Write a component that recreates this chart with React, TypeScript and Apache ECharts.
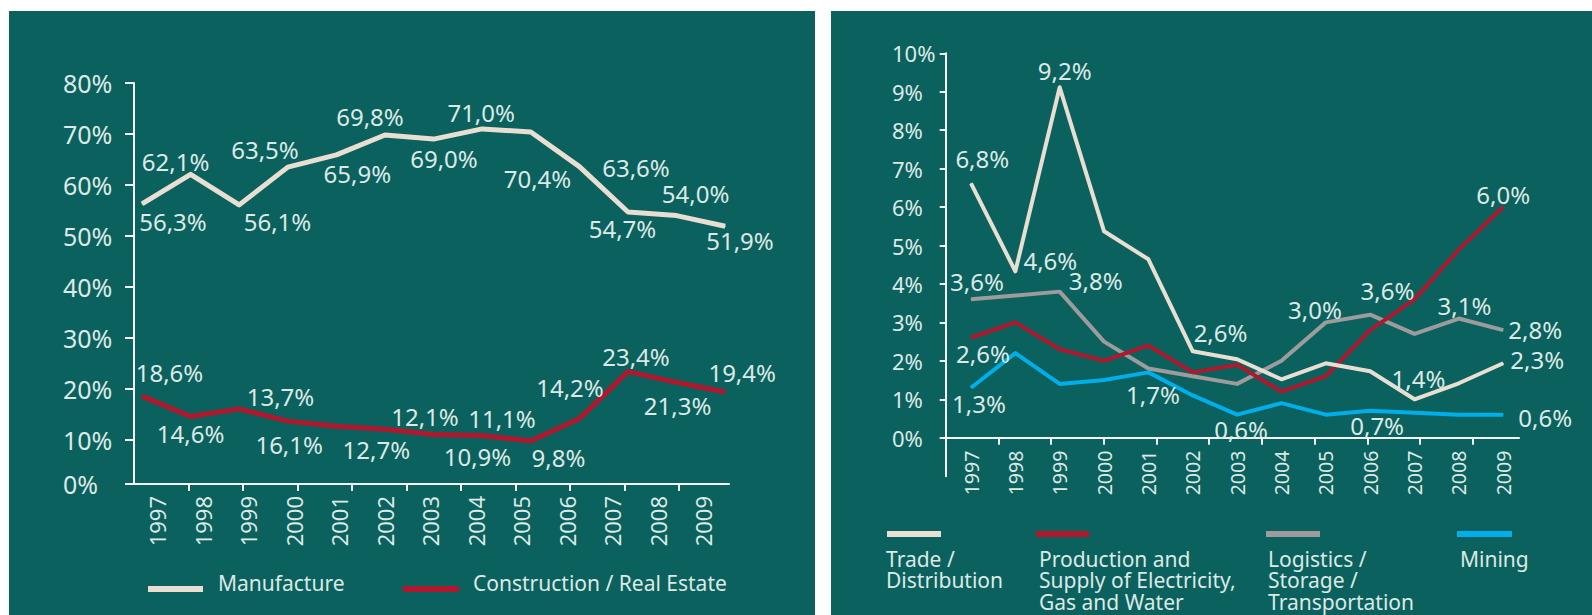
import React, { useEffect, useRef } from 'react';
import * as echarts from 'echarts';

// ---------------- data ----------------
const years = ['1997', '1998', '1999', '2000', '2001', '2002', '2003', '2004', '2005', '2006', '2007', '2008', '2009'];

// left chart (share, %)
const leftYTicks = [0, 10, 20, 30, 40, 50, 60, 70, 80];
const manufacture = [56.3, 62.1, 56.1, 63.5, 65.9, 69.8, 69.0, 71.0, 70.4, 63.6, 54.7, 54.0, 51.9];
const construction = [18.6, 14.6, 16.1, 13.7, 12.7, 12.1, 11.1, 10.9, 9.8, 14.2, 23.4, 21.3, 19.4];

// right chart (share, %)
const rightYTicks = [0, 1, 2, 3, 4, 5, 6, 7, 8, 9, 10];
const trade = [6.8, 4.6, 9.2, 5.6, 4.9, 2.6, 2.4, 1.9, 2.3, 2.1, 1.4, 1.8, 2.3];
const production = [2.6, 3.0, 2.3, 2.0, 2.4, 1.7, 1.9, 1.2, 1.6, 2.8, 3.6, 4.9, 6.0];
const logistics = [3.6, 3.7, 3.8, 2.5, 1.8, 1.6, 1.4, 2.0, 3.0, 3.2, 2.7, 3.1, 2.8];
const mining = [1.3, 2.2, 1.4, 1.5, 1.7, 1.1, 0.6, 0.9, 0.6, 0.7, 0.65, 0.6, 0.6];

// ---------------- styles / layout ----------------
const FONT = 'Noto Sans';
const TEAL = '#0b615d';
const TEXT = '#dde9e6';
const CREAM = '#e8dfd2';
const RED = '#b0182e';
const GRAY = '#9d9b9b';
const BLUE = '#00aee9';
const AXIS = '#f4f8f7';

// label placements (pixel offsets from the point), style only
const manLabelOff: [number, number][] = [[31, 17.6], [-15, -12.3], [38.3, 16.6], [-22.8, -18], [21, 18.6], [-15, -18.5], [10.4, 19], [-1, -16.4], [6.7, 47], [56.6, 1], [-5.5, 16], [19, -22.6], [14.8, 13.7]];
const conLabelOff: [number, number][] = [[27.5, -23.6], [0, 16.5], [50, 36], [-7.3, -25], [40, 23], [40, -13], [68.4, -16], [-4.7, 21], [27.7, 16], [-9.4, -31], [8, -15], [1, 23.6], [17, -19.6]];
const tradeLabelOff: Record<number, [number, number]> = { 0: [11.3, -25.3], 1: [35, -11.3], 2: [5, -17.3], 5: [27.8, -18.8], 10: [4, -21.3], 12: [34, -4] };
const prodLabelOff: Record<number, [number, number]> = { 0: [12, 16], 10: [-27, -9.3], 12: [0, -13] };
const logLabelOff: Record<number, [number, number]> = { 0: [6, -18], 2: [36, -11.6], 8: [-10.8, -13], 11: [5.6, -13.5], 12: [32, -1] };
const minLabelOff: Record<number, [number, number]> = { 0: [8, 15.5], 4: [4.6, 22], 6: [4, 14.4], 9: [7, 15], 12: [42, 3] };

// left geometry
const L_AX0 = 134, L_AX1 = 729, L_PT0 = 142, L_STEP = 48.6;
const L_TOP = 83, L_AXIS_Y = 484, L_ZERO_Y = 491;
const L_TICK0 = 134, L_TICK_STEP = 54.5;
const L_LAB0 = 157, L_LAB_STEP = 45.5;
// right geometry
const R_AX0 = 945.7, R_AX1 = 1519, R_PT0 = 971, R_STEP = 44.35;
const R_ZERO_Y = 437.7, R_UNIT = 38.44;
const R_TRADE_ZERO_Y = 455.3, R_TRADE_UNIT = 40;
const R_TICK_STEP = 52.7;

const fmt = (v: number) => v.toFixed(1).replace('.', ',') + '%';

function App() {
  const ref = useRef<HTMLDivElement>(null);
  useEffect(() => {
    if (!ref.current) return;
    const chart = echarts.init(ref.current, undefined, { renderer: 'svg' });

    const lYMax = 80;
    const lUnit = (L_ZERO_Y - L_TOP) / lYMax;
    const lYMin = (L_ZERO_Y - L_AXIS_Y) / lUnit;
    const lLabelVals = leftYTicks.map((t) => (t === 0 ? lYMin : t));
    const lXMin = (L_AX0 - L_PT0) / L_STEP;
    const lXMax = (L_AX1 - L_PT0) / L_STEP;
    const lTickVals = Array.from({ length: 10 }, (_, k) => (L_TICK0 + L_TICK_STEP * (k + 1) - L_PT0) / L_STEP);
    const lYearVals = years.map((_, i) => (L_LAB0 + L_LAB_STEP * i - L_PT0) / L_STEP);

    const rYMin = -1;
    const rYMax = 10;
    const rBottom = R_ZERO_Y - rYMin * R_UNIT;
    const rTop = R_ZERO_Y - rYMax * R_UNIT;
    const rTradeMin = (R_TRADE_ZERO_Y - rBottom) / R_TRADE_UNIT;
    const rTradeMax = (R_TRADE_ZERO_Y - rTop) / R_TRADE_UNIT;
    const rXMin = (R_AX0 - R_PT0) / R_STEP;
    const rXMax = (R_AX1 - R_PT0) / R_STEP;
    const rTickVals = Array.from({ length: 10 }, (_, k) => (R_AX0 + R_TICK_STEP * (k + 1) - R_PT0) / R_STEP);

    const labelBase = {
      show: true,
      position: 'inside',
      color: TEXT,
      fontSize: 24,
      fontFamily: FONT,
      formatter: (p: any) => fmt(p.value[1]),
    };

    const allLabels = (vals: number[], offs: [number, number][]) =>
      vals.map((v, i) => ({ value: [i, v], label: { offset: offs[i] } }));
    const someLabels = (vals: number[], offs: Record<number, [number, number]>) =>
      vals.map((v, i) => (offs[i] ? { value: [i, v], label: { show: true, offset: offs[i] } } : { value: [i, v], label: { show: false } }));

    const lineSeries = (name: string, color: string, width: number, xi: number, yi: number, data: any[]) => ({
      type: 'line',
      name,
      xAxisIndex: xi,
      yAxisIndex: yi,
      data,
      symbol: 'circle',
      symbolSize: 1,
      showSymbol: true,
      silent: true,
      lineStyle: { color, width, join: 'round' },
      itemStyle: { color },
      label: labelBase,
      emphasis: { disabled: true },
    });

    const axisLabelStyle = { color: TEXT, fontFamily: FONT };

    const legendText = (text: string, x: number, y: number) => ({
      type: 'text',
      x,
      y,
      silent: true,
      style: { text, fill: TEXT, font: `21px "${FONT}"`, align: 'left', verticalAlign: 'top', lineHeight: 21.5 },
    });
    const legendSwatch = (x: number, y: number, w: number, color: string) => ({
      type: 'rect',
      silent: true,
      shape: { x, y, width: w, height: 6 },
      style: { fill: color },
    });

    chart.setOption({
      animation: false,
      backgroundColor: '#ffffff',
      textStyle: { fontFamily: FONT },
      graphic: [
        { type: 'rect', z: -10, silent: true, shape: { x: 9, y: 11, width: 806, height: 604 }, style: { fill: TEAL } },
        { type: 'rect', z: -10, silent: true, shape: { x: 831, y: 11, width: 761, height: 604 }, style: { fill: TEAL } },
        legendSwatch(148, 586, 55, CREAM),
        { type: 'text', x: 218, y: 583, silent: true, style: { text: 'Manufacture', fill: TEXT, font: `21px "${FONT}"`, align: 'left', verticalAlign: 'middle' } },
        legendSwatch(403, 586, 56, RED),
        { type: 'text', x: 473, y: 583, silent: true, style: { text: 'Construction / Real Estate', fill: TEXT, font: `21px "${FONT}"`, align: 'left', verticalAlign: 'middle' } },
        legendSwatch(887, 531, 54, CREAM),
        legendText('Trade /\nDistribution', 886, 548),
        legendSwatch(1036, 531, 53, RED),
        legendText('Production and\nSupply of Electricity,\nGas and Water', 1039, 548),
        legendSwatch(1266, 531, 54, GRAY),
        legendText('Logistics /\nStorage /\nTransportation', 1268, 548),
        legendSwatch(1457, 531, 55, BLUE),
        legendText('Mining', 1460, 548),
      ],
      grid: [
        { left: L_AX0, top: L_TOP, width: L_AX1 - L_AX0, height: L_AXIS_Y - L_TOP, containLabel: false },
        { left: R_AX0, top: rTop, width: R_AX1 - R_AX0, height: rBottom - rTop, containLabel: false },
      ],
      xAxis: [
        {
          type: 'value',
          gridIndex: 0,
          min: lXMin,
          max: lXMax,
          splitLine: { show: false },
          axisLine: { show: true, onZero: false, lineStyle: { color: AXIS, width: 2 } },
          axisTick: { show: true, length: 7, inside: false, customValues: lTickVals, lineStyle: { color: AXIS, width: 2 } },
          axisLabel: {
            ...axisLabelStyle,
            fontSize: 22,
            rotate: 90,
            margin: 12,
            customValues: lYearVals,
            formatter: (v: number) => years[Math.round((v * L_STEP + L_PT0 - L_LAB0) / L_LAB_STEP)] ?? '',
          },
        },
        {
          type: 'value',
          gridIndex: 1,
          min: rXMin,
          max: rXMax,
          position: 'bottom',
          offset: -(rBottom - R_ZERO_Y),
          splitLine: { show: false },
          axisLine: { show: true, onZero: false, lineStyle: { color: AXIS, width: 2 } },
          axisTick: { show: true, length: 7, inside: false, customValues: rTickVals, lineStyle: { color: AXIS, width: 2 } },
          axisLabel: {
            ...axisLabelStyle,
            fontSize: 19.5,
            rotate: 90,
            margin: 13,
            customValues: years.map((_, i) => i),
            formatter: (v: number) => years[Math.round(v)] ?? '',
          },
        },
      ],
      yAxis: [
        {
          type: 'value',
          gridIndex: 0,
          min: lYMin,
          max: lYMax,
          splitLine: { show: false },
          axisLine: { show: true, onZero: false, lineStyle: { color: AXIS, width: 2 } },
          axisTick: { show: true, length: 9, customValues: lLabelVals, lineStyle: { color: AXIS, width: 2 } },
          axisLabel: {
            ...axisLabelStyle,
            fontSize: 25,
            align: 'left',
            margin: L_AX0 - 63,
            customValues: lLabelVals,
            formatter: (v: number) => Math.round(v / 10) * 10 + '%',
          },
        },
        {
          type: 'value',
          gridIndex: 1,
          min: rYMin,
          max: rYMax,
          splitLine: { show: false },
          axisLine: { show: true, onZero: false, lineStyle: { color: AXIS, width: 2 } },
          axisTick: { show: true, length: 6, customValues: rightYTicks, lineStyle: { color: AXIS, width: 2 } },
          axisLabel: {
            ...axisLabelStyle,
            fontSize: 22,
            align: 'left',
            margin: R_AX0 - 892,
            customValues: rightYTicks,
            formatter: (v: number) => Math.round(v) + '%',
          },
        },
        {
          type: 'value',
          gridIndex: 1,
          min: rTradeMin,
          max: rTradeMax,
          show: false,
          splitLine: { show: false },
          axisLine: { onZero: false },
        },
      ],
      series: [
        lineSeries('Construction / Real Estate', RED, 5, 0, 0, allLabels(construction, conLabelOff)),
        lineSeries('Manufacture', CREAM, 5, 0, 0, allLabels(manufacture, manLabelOff)),
        lineSeries('Mining', BLUE, 4, 1, 1, someLabels(mining, minLabelOff)),
        lineSeries('Logistics / Storage / Transportation', GRAY, 4, 1, 1, someLabels(logistics, logLabelOff)),
        lineSeries('Production and Supply of Electricity, Gas and Water', RED, 4, 1, 1, someLabels(production, prodLabelOff)),
        lineSeries('Trade / Distribution', CREAM, 4, 1, 2, someLabels(trade, tradeLabelOff)),
      ],
    });

    return () => chart.dispose();
  }, []);

  return <div ref={ref} style={{ position: 'absolute', left: 0, top: 0, width: 1592, height: 615 }} />;
}

export default App;
